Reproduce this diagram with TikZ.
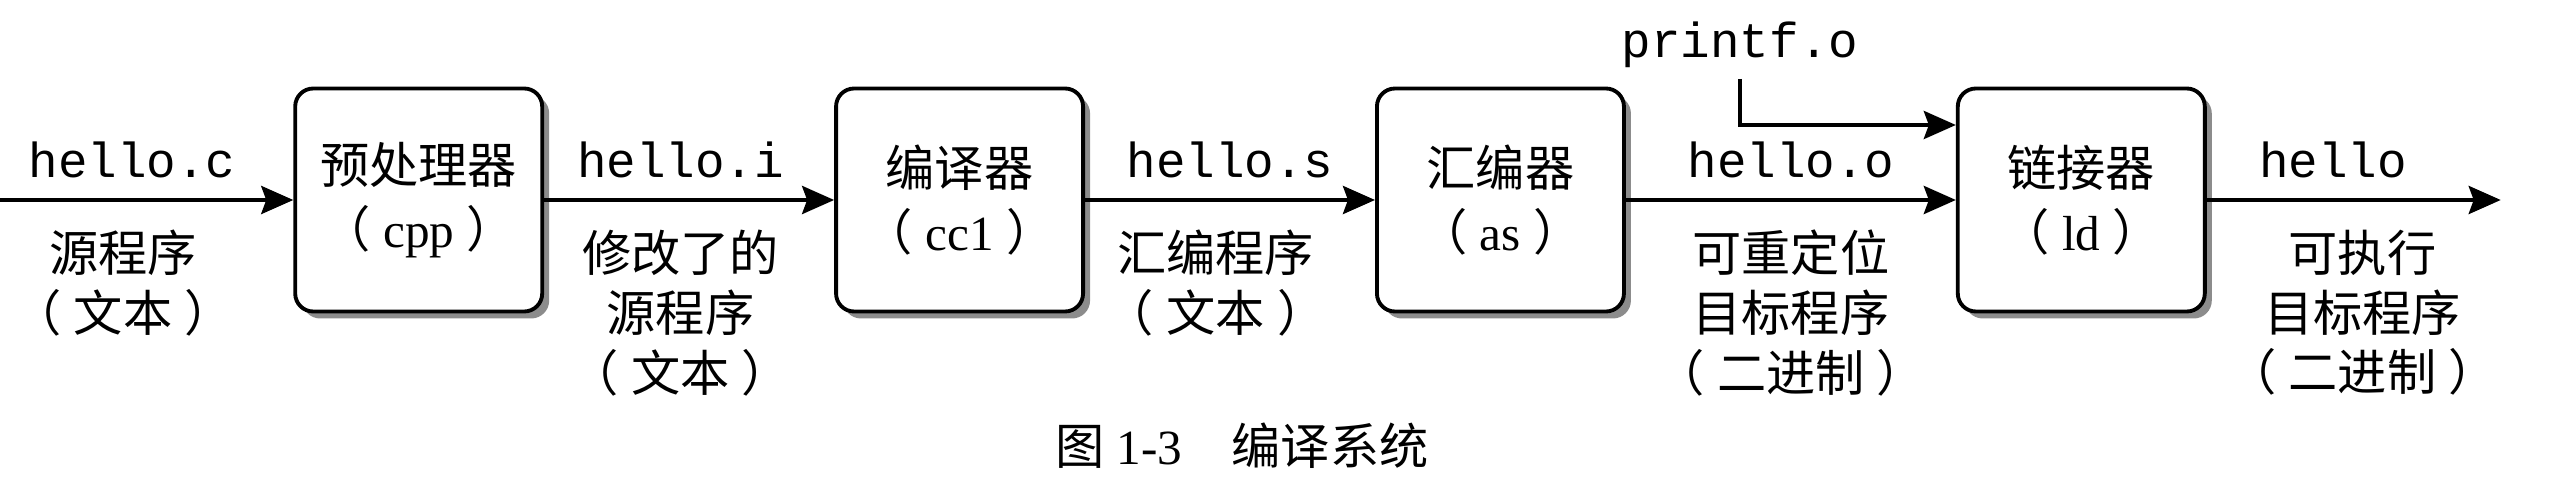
\documentclass[tikz,border=0pt]{standalone}
\usepackage{fontspec}
\setmainfont{Liberation Serif}
\setmonofont{Liberation Mono}
\newfontfamily\cjk{Noto Sans CJK SC}
\usetikzlibrary{arrows.meta, positioning, shadows}
\newcommand{\prog}[1]{{\cjk （}\hspace{.25em}#1\hspace{.25em}{\cjk ）}}

\begin{document}
\begin{tikzpicture}[node distance = 2.9cm,
    tool/.style = {draw, line width = 1.1pt, rounded corners = 1.8mm, fill = white,
        minimum width = 2.47cm, minimum height = 2.23cm, align = center,
        font = \fontsize{14}{18}\selectfont,
        drop shadow = {shadow xshift = 0.7mm, shadow yshift = -0.7mm, fill = black!45, opacity = 1}},
    file/.style = {font = \fontsize{14}{17}\ttfamily, inner sep = 0pt, above = 2mm},
    desc/.style = {font = \fontsize{14}{17}\selectfont\cjk, inner sep = 0pt, below = 2.8mm, align = center},
    flow/.style = {line width = 1.2pt, -{Stealth[length = 3.2mm, width = 2.8mm, inset = 0.5mm]}}]
    \useasboundingbox (0,0) rectangle (25.74,-4.94);
    % the four tools
    \coordinate (src) at (0,-2.0);
    \node[tool] (cpp) at (4.187,-2.0) {{\cjk 预处理器}\\\prog{cpp}};
    \node[tool] (cc)[right = of cpp] {{\cjk 编译器}\\\prog{cc1}};
    \node[tool] (as)[right = of cc] {{\cjk 汇编器}\\\prog{as}};
    \node[tool] (ld)[right = 3.3cm of as] {{\cjk 链接器}\\\prog{ld}};
    \coordinate[right = 2.94cm of ld] (out);
    % files between them
    \draw[flow] (src) -- node[file, pos = .45] (fc) {hello.c}
        node[desc, pos = .42] (dc) {源程序\\\prog{文本}} (cpp);
    \draw[flow] (cpp) -- node[file, pos = .47] (fi) {hello.i}
        node[desc, pos = .47] (di) {修改了的\\源程序\\\prog{文本}} (cc);
    \draw[flow] (cc) -- node[file] (fs) {hello.s}
        node[desc, pos = .45] (ds) {汇编程序\\\prog{文本}} (as);
    \draw[flow] (as) -- node[file] (fo) {hello.o}
        node[desc] (do) {可重定位\\目标程序\\\prog{二进制}} (ld);
    \draw[flow] (ld) -- node[file, pos = .43] (fh) {hello}
        node[desc, pos = .53] (dh) {可执行\\目标程序\\\prog{二进制}} (out);
    \node[font = \fontsize{14}{17}\ttfamily, anchor = base, inner sep = 1mm] (pf) at (17.40,-0.58) {printf.o};
    \draw[flow] (pf) |- ([yshift = 7.5mm]ld.west);
    \node[font = \fontsize{14}{17}\selectfont] (cap) at (12.42,-4.46) {{\cjk 图} 1-3\quad{\cjk 编译系统}};
\end{tikzpicture}
\end{document}
